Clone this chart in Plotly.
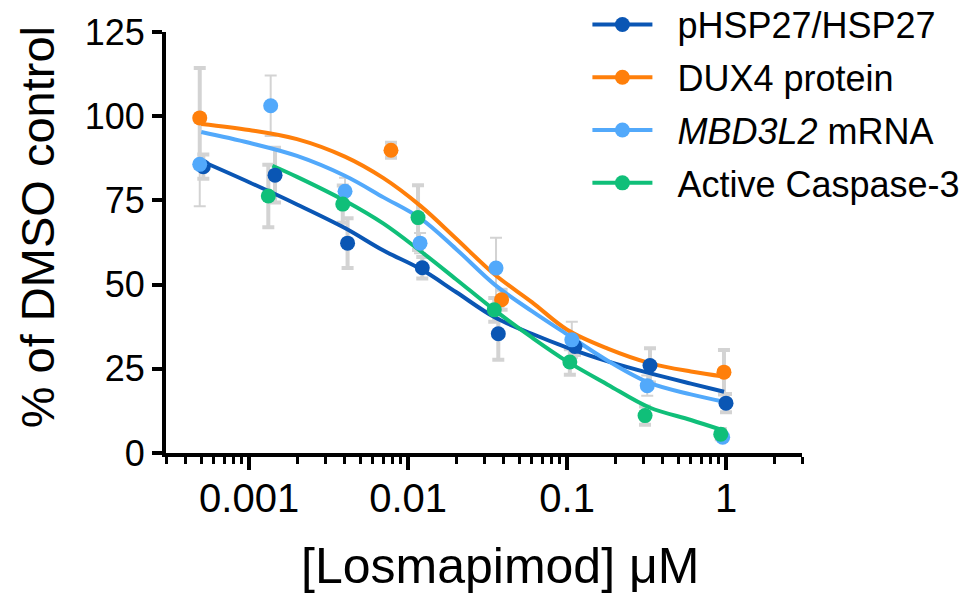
import plotly.graph_objects as go

# ---------------- data ----------------
SERIES_NAMES = ["pHSP27/HSP27", "DUX4 protein", "<i>MBD3L2</i> mRNA", "Active Caspase-3"]
SERIES_COLORS = ["#0a56b4", "#ff7f0a", "#52a9fb", "#10bf79"]
ERR_THICK = [4, 4, 2, 4]

# measured points (concentration in µM, % of DMSO control, SD)
hsp_x = [0.000515, 0.001455, 0.00416, 0.01227, 0.0369, 0.112, 0.332, 0.998]
hsp_y = [85.0, 82.5, 62.3, 55.0, 35.4, 31.6, 26.0, 14.8]
hsp_sd = [3.6, 8.1, 7.4, 3.2, 7.7, 2.5, 5.1, 2.7]

dux_x = [0.000489, 0.0078, 0.0387, 0.969]
dux_y = [99.5, 89.9, 45.5, 24.0]
dux_sd = [14.8, 2.2, 3.0, 6.6]

mbd_x = [0.000489, 0.001366, 0.00401, 0.01188, 0.0357, 0.107, 0.319, 0.951]
mbd_y = [85.7, 103.1, 77.7, 62.3, 54.9, 33.6, 20.0, 4.7]
mbd_sd = [12.4, 9.0, 4.0, 3.0, 9.0, 5.4, 3.0, 1.0]

cas_x = [0.00132, 0.00388, 0.01154, 0.0348, 0.104, 0.309, 0.925]
cas_y = [76.3, 73.9, 69.9, 42.5, 27.0, 11.1, 5.6]
cas_sd = [9.3, 5.5, 9.6, 3.5, 3.8, 2.7, 1.5]

# fitted curves
fit_x = [0.0005, 0.001, 0.002, 0.004, 0.007, 0.012, 0.02, 0.035, 0.06, 0.1, 0.18, 0.33, 0.6, 0.97]
hsp_fit = [86.7, 80.4, 73.8, 66.8, 60.1, 54.6, 47.8, 40.3, 35.4, 31.3, 27.2, 23.7, 20.6, 18.2]
dux_fit = [97.7, 95.9, 93.2, 88.0, 81.6, 73.3, 63.7, 53.0, 44.8, 36.6, 31.0, 26.7, 24.2, 22.7]
mbd_fit = [95.3, 92.1, 88.2, 82.3, 75.9, 69.6, 60.6, 50.0, 42.1, 35.2, 27.4, 20.8, 17.4, 15.2]
cas_fit_x = [0.0014, 0.002, 0.004, 0.007, 0.012, 0.02, 0.035, 0.06, 0.1, 0.18, 0.33, 0.6, 0.93]
cas_fit = [85.3, 82.0, 74.9, 68.1, 59.9, 51.6, 42.4, 34.3, 27.2, 20.3, 13.5, 9.8, 6.9]

# axis ticks
x_major = [0.001, 0.01, 0.1, 1]
x_major_text = ["0.001", "0.01", "0.1", "1"]
x_minor = [m * d for d in [0.0001, 0.001, 0.01, 0.1, 1] for m in range(2, 10) if 0.00029 < m * d < 3.01]
y_ticks = [0, 25, 50, 75, 100, 125]

FONT = "Liberation Sans, Arial, sans-serif"
PAD = "\u00a0\u00a0"  # gap between legend symbol and label

points = [(hsp_x, hsp_y, hsp_sd), (dux_x, dux_y, dux_sd), (mbd_x, mbd_y, mbd_sd), (cas_x, cas_y, cas_sd)]
curves = [(fit_x, hsp_fit), (fit_x, dux_fit), (fit_x, mbd_fit), (cas_fit_x, cas_fit)]

fig = go.Figure()

# error bars (behind curves)
for (px, py, psd), th in zip(points, ERR_THICK):
    fig.add_trace(go.Scatter(
        x=px, y=py, mode="markers",
        marker=dict(size=15, color="rgba(0,0,0,0)"),
        error_y=dict(type="data", array=psd, visible=True, color="#d3d3d3",
                     thickness=th, width=6),
        showlegend=False, hoverinfo="skip", cliponaxis=False))

# fitted curves
for (cx, cy), col in zip(curves, SERIES_COLORS):
    fig.add_trace(go.Scatter(
        x=cx, y=cy, mode="lines", line=dict(color=col, width=4, shape="spline", smoothing=1.0),
        showlegend=False, hoverinfo="skip"))

# markers
for (px, py, psd), col in zip(points, SERIES_COLORS):
    fig.add_trace(go.Scatter(
        x=px, y=py, mode="markers", marker=dict(size=15, color=col),
        showlegend=False, cliponaxis=False))

# legend entries
for i, (name, col) in enumerate(zip(SERIES_NAMES, SERIES_COLORS)):
    fig.add_trace(go.Scatter(
        x=[None], y=[None], mode="lines+markers", name=PAD + name, legendgroup=f"g{i}",
        line=dict(color=col, width=4), marker=dict(size=15, color=col)))

fig.update_layout(
    width=979, height=597,
    margin=dict(l=166, r=177, t=32, b=144, autoexpand=False),
    paper_bgcolor="white", plot_bgcolor="white",
    font=dict(family=FONT, color="black"),
    showlegend=True,
    legend=dict(x=0.6626, y=1.089, xanchor="left", yanchor="top",
                font=dict(size=36, family=FONT, color="black"),
                bgcolor="rgba(0,0,0,0)", traceorder="grouped", tracegroupgap=3,
                itemwidth=60, itemclick=False),
    xaxis=dict(type="log", range=[-3.5229, 0.4771],
               tickmode="array", tickvals=x_major, ticktext=x_major_text,
               ticks="outside", ticklen=13, tickwidth=3.5, tickcolor="black",
               showline=True, linecolor="black", linewidth=4,
               showgrid=False, zeroline=False, ticklabelstandoff=-6,
               tickfont=dict(size=40, family=FONT),
               minor=dict(tickmode="array", tickvals=x_minor, ticks="outside",
                          ticklen=7, tickwidth=3, tickcolor="black", showgrid=False)),
    yaxis=dict(range=[0, 125], tickmode="array", tickvals=y_ticks,
               ticks="outside", ticklen=10, tickwidth=3.5, tickcolor="black",
               showline=True, linecolor="black", linewidth=4,
               showgrid=False, zeroline=False,
               tickfont=dict(size=36, family=FONT)),
    annotations=[
        dict(text="% of DMSO control", textangle=-90, xref="paper", yref="paper",
             x=-0.203, y=0.536, xanchor="center", yanchor="middle", showarrow=False,
             font=dict(size=47, family=FONT)),
        dict(text="[Losmapimod] μM", xref="paper", yref="paper",
             x=0.525, y=-0.268, xanchor="center", yanchor="middle", showarrow=False,
             font=dict(size=50, family=FONT)),
    ],
)

fig.write_html("out.html")
